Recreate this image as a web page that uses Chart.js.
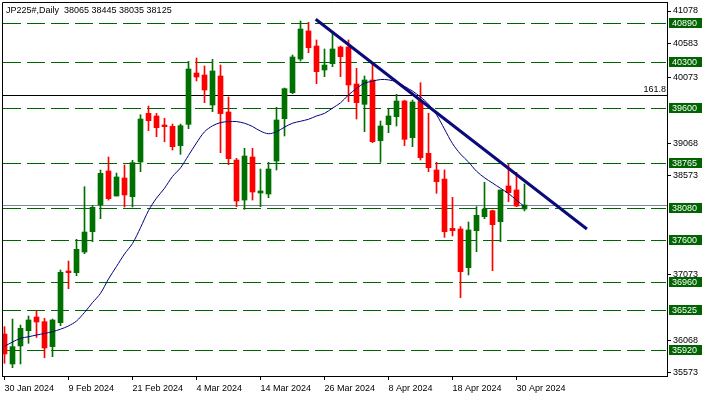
<!DOCTYPE html>
<html>
<head>
<meta charset="utf-8">
<script src="https://cdn.jsdelivr.net/npm/chart.js@4.4.1/dist/chart.umd.min.js"></script>
<style>
  html, body { margin: 0; padding: 0; background: #fff; }
  canvas { display: block; }
</style>
</head>
<body>
<canvas id="chart" width="708" height="397"></canvas>
<script>
// --- data (daily bars, index 0 = 30 Jan 2024) ---
const opens  = [36162,35706,35980,36213,36421,36350,35970,36335,37121,37096,37410,37720,38125,38643,38262,38536,38252,38780,39520,39480,
                39343,39323,39028,39353,40134,40104,39647,40089,39541,38810,38201,38856,38308,38293,38795,39439,39835,40347,40774,40545,
                40180,40276,40530,40530,39967,39658,40028,39104,39348,39470,39708,39150,39713,38912,38658,38521,37770,37760,37172,37735,
                37948,38039,37872,38415,38354,38065];
const highs  = [36274,36390,36299,36436,36517,36401,36390,37136,37273,37603,38404,38120,38658,38856,38612,38734,38805,39500,39632,39520,
                39444,39358,39358,40312,40363,40241,40342,40256,39769,38836,38988,38988,38673,38775,39612,39906,40408,40926,40906,40637,
                40500,40763,40545,40637,40205,40089,40281,39404,39581,39810,39720,39723,39987,39521,38775,38660,38242,37796,37867,38100,
                38470,38049,38354,38744,38623,38445];
const lows   = [35716,35650,35706,36020,36111,35802,35817,36289,36852,37050,37385,37567,37917,38200,38262,38095,38095,38633,39257,39165,
                39089,38962,38896,39287,40013,39683,39546,38922,38739,38100,38060,38201,38100,38237,38658,39176,39820,40317,40444,39972,
                40079,40231,40079,39698,39434,39242,39074,38775,39226,39328,39028,39013,38810,38633,38303,37633,37654,36715,37060,37415,
                37917,37126,37567,38176,38100,38035];
const closes = [35858,35970,36249,36375,36345,35949,36375,37101,37096,37451,37714,38090,38607,38222,38552,38278,38770,39434,39409,39302,
                39318,39013,39333,40195,40074,39876,40165,39516,38831,38186,38871,38323,38339,38673,39419,39896,40378,40804,40520,40155,
                40256,40500,40383,39952,39683,40028,39089,39328,39480,39708,39125,39693,38846,38694,38481,37720,37735,37111,37745,37968,
                38064,37826,38354,38313,38110,38125];
const maValues = [35975,36040,36096,36120,36147,36170,36198,36235,36285,36360,36490,36640,36781,37000,37190,37380,37540,37780,38040,38230,
                  38380,38560,38690,38880,39070,39240,39330,39380,39395,39395,39370,39320,39250,39210,39240,39310,39370,39400,39430,39480,
                  39520,39600,39680,39800,39900,39980,40010,40035,40030,40000,39930,39860,39770,39660,39500,39280,39060,38900,38780,38640,
                  38540,38460,38380,38300,38200,38100];

const trendIdx = [38.9, 72.8];
const trendVal = [40952, 37760];

const levels = [40890, 40300, 39600, 38765, 38080, 37600, 36960, 36525, 35920];
const fiboValue = 39795;
const fiboText = '161.8';
const bidPrice = 38125;

const yTicks = [41078, 40583, 40073, 39068, 38573, 37073, 36068, 35573];
const xLabels = ['30 Jan 2024', '9 Feb 2024', '21 Feb 2024', '4 Mar 2024', '14 Mar 2024',
                 '26 Mar 2024', '8 Apr 2024', '18 Apr 2024', '30 Apr 2024'];
const barsPerLabel = 8;
const titleText = 'JP225#,Daily  38065 38445 38035 38125';

// --- styles ---
const GREEN = '#007000';
const LEVEL_GREEN = '#006400';
const RED = '#ff0000';
const NAVY = '#000080';
const FONT = "'Liberation Sans', Arial, sans-serif";

const isUp = i => closes[i] >= opens[i];
const candleColor = ctx => isUp(ctx.dataIndex) ? GREEN : RED;

// horizontal lines, title, frame and price boxes
const overlay = {
  id: 'overlay',
  beforeDatasetsDraw(chart) {
    const { ctx, chartArea: a, scales: { y } } = chart;
    const py = v => Math.round(y.getPixelForValue(v)) + 0.5;
    ctx.save();
    ctx.lineWidth = 1;

    ctx.strokeStyle = LEVEL_GREEN;
    ctx.setLineDash([18, 6]);
    levels.forEach(v => {
      ctx.beginPath(); ctx.moveTo(a.left + 1, py(v)); ctx.lineTo(a.right - 1, py(v)); ctx.stroke();
    });
    ctx.setLineDash([]);

    ctx.strokeStyle = '#000';
    ctx.beginPath(); ctx.moveTo(a.left, py(fiboValue)); ctx.lineTo(a.right, py(fiboValue)); ctx.stroke();

    ctx.strokeStyle = '#778899';
    ctx.beginPath(); ctx.moveTo(a.left, py(bidPrice)); ctx.lineTo(a.right, py(bidPrice)); ctx.stroke();

    ctx.fillStyle = '#000';
    ctx.font = '9px ' + FONT;
    ctx.textAlign = 'right';
    ctx.textBaseline = 'bottom';
    ctx.fillText(fiboText, a.right - 1, py(fiboValue) - 1);
    ctx.restore();
  },
  afterDraw(chart) {
    const { ctx, chartArea: a, scales: { y } } = chart;
    ctx.save();
    // frame (top + left; right and bottom come from the axes)
    ctx.strokeStyle = '#000';
    ctx.lineWidth = 1;
    ctx.beginPath();
    ctx.moveTo(a.left + 0.5, a.bottom); ctx.lineTo(a.left + 0.5, a.top + 0.5); ctx.lineTo(a.right, a.top + 0.5);
    ctx.stroke();

    ctx.fillStyle = '#000';
    ctx.font = '9px ' + FONT;
    ctx.textAlign = 'left';
    ctx.textBaseline = 'middle';
    ctx.fillText(titleText, a.left + 4, a.top + 9);

    // price boxes on the right axis
    levels.forEach(v => {
      const yy = Math.round(y.getPixelForValue(v));
      ctx.fillStyle = LEVEL_GREEN;
      ctx.fillRect(a.right + 2, yy - 5, 33, 10);
      ctx.fillStyle = '#fff';
      ctx.fillText(String(v), a.right + 5, yy + 0.5);
    });
    ctx.restore();
  }
};

Chart.defaults.font.family = FONT;
Chart.defaults.font.size = 9;
Chart.defaults.color = '#000';

new Chart(document.getElementById('chart'), {
  type: 'bar',
  data: {
    datasets: [
      {
        label: 'wicks', order: 3, grouped: false,
        data: highs.map((h, i) => ({ x: i, y: [lows[i], h] })),
        backgroundColor: candleColor, barThickness: 1, borderWidth: 0
      },
      {
        label: 'bodies', order: 2, grouped: false,
        data: opens.map((o, i) => ({ x: i, y: [o, closes[i]] })),
        backgroundColor: candleColor, barThickness: 5, minBarLength: 1, borderWidth: 0
      },
      {
        type: 'line', label: 'MA', order: 1,
        data: maValues.map((v, i) => ({ x: i, y: v })),
        borderColor: NAVY, borderWidth: 1, pointRadius: 0, tension: 0.3
      },
      {
        type: 'line', label: 'trend', order: 0,
        data: trendIdx.map((x, i) => ({ x, y: trendVal[i] })),
        borderColor: '#0a0a7a', borderWidth: 3, pointRadius: 0
      }
    ]
  },
  options: {
    responsive: false,
    animation: false,
    devicePixelRatio: 1,
    layout: { padding: { top: 2, left: 2, right: 0, bottom: 0 } },
    plugins: { legend: { display: false }, tooltip: { enabled: false } },
    scales: {
      x: {
        type: 'linear', offset: false,
        min: -0.3125, max: 82.8125,
        afterBuildTicks: s => { s.ticks = xLabels.map((_, k) => ({ value: k * barsPerLabel })); },
        afterFit: s => { s.height = 21; s.paddingLeft = 0; s.paddingRight = 0; },
        grid: { drawOnChartArea: false, offset: false, tickLength: 4, color: '#000' },
        border: { display: true, color: '#000' },
        ticks: {
          autoSkip: false, maxRotation: 0, align: 'start', padding: 3,
          font: { size: 9 },
          callback: v => xLabels[Math.round(v / barsPerLabel)] || ''
        }
      },
      y: {
        type: 'linear', position: 'right',
        min: 35523, max: 41215,
        afterBuildTicks: s => { s.ticks = yTicks.map(v => ({ value: v })); },
        afterFit: s => { s.width = 41; s.paddingTop = 0; s.paddingBottom = 0; },
        grid: { drawOnChartArea: false, tickLength: 4, color: '#000' },
        border: { display: true, color: '#000' },
        ticks: { padding: 2, font: { size: 9 }, callback: v => String(v) }
      }
    }
  },
  plugins: [overlay]
});
</script>
</body>
</html>
